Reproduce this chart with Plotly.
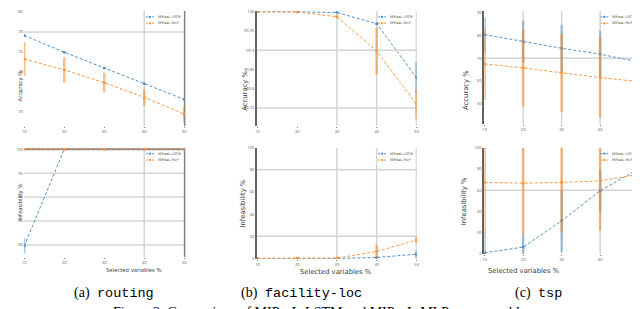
import plotly.graph_objects as go

# ---------------- data ----------------
sel_vars = [10, 20, 30, 40, 50]

# (a) routing
routing_acc_lstm = [77.65, 75.98, 74.41, 72.84, 71.27]
routing_acc_lstm_err = [0.1, 0.1, 0.1, 0.1, 0.1]
routing_acc_mlp = [75.29, 74.22, 72.94, 71.47, 69.8]
routing_acc_mlp_err = [1.72, 1.27, 0.98, 0.83, 0.78]
routing_inf_lstm = [79.8, 100, 100, 100, 100]
routing_inf_lstm_err = [1.6, 0, 0, 0, 0]
routing_inf_mlp = [100, 100, 100, 100, 100]
routing_inf_mlp_err = [0, 0, 0, 0, 0]

# (b) facility-loc
fac_acc_lstm = [100.0, 100.0, 99.998, 99.969, 99.829]
fac_acc_lstm_err = [0, 0, 0.002, 0.004, 0.04]
fac_acc_mlp = [100.0, 99.9997, 99.987, 99.898, 99.76]
fac_acc_mlp_err = [0, 0, 0.004, 0.061, 0.038]
fac_inf_lstm = [0, 0, 0, 0.8, 3.8]
fac_inf_lstm_err = [0, 0, 0, 0.8, 3.5]
fac_inf_mlp = [0, 0, 0.3, 6.2, 16.6]
fac_inf_mlp_err = [0, 0, 0.3, 6.0, 3.0]

# (c) tsp
tsp_acc_lstm = [80.48, 77.45, 74.42, 71.82, 68.36]
tsp_acc_lstm_err = [7.8, 9.1, 10.4, 10.4, 10.4]
tsp_acc_mlp = [67.49, 65.76, 63.59, 61.43, 59.7]
tsp_acc_mlp_err = [15.8, 16.9, 17.3, 17.7, 16.9]
tsp_inf_lstm = [1.2, 6.5, 31.2, 59.6, 80.0]
tsp_inf_lstm_err = [19, 12, 29, 20, 5]
tsp_inf_mlp = [67.3, 66.7, 67.3, 68.8, 75.0]
tsp_inf_mlp_err = [48, 48, 47, 47, 40]

series_names = ["MIPaaL-LSTM", "MIPaaL-MLP"]
caption_labels = ["(a)", "(b)", "(c)"]
captions = ["routing", "facility-loc", "tsp"]
figure_caption = "Figure 2: Comparison of MIPaaL-LSTM and MIPaaL-MLP across problems"

# ---------------- styling ----------------
W, H = 640, 309
BLUE = "rgb(80,145,205)"
ORANGE = "rgb(255,150,65)"
BLUE_ERR = "rgba(31,119,180,0.35)"
ORANGE_ERR = "rgba(255,127,14,0.5)"
GRID = "rgb(212,212,212)"
DARK = "rgb(130,130,130)"
TXT = "rgb(60,60,60)"
SERIF = "Liberation Serif, DejaVu Serif, Times New Roman, serif"
MONO = "Liberation Mono, DejaVu Sans Mono, Courier New, monospace"


def px_x(p):
    return p / W


def px_y(p):
    return 1 - p / H


panels = [
    dict(i=1, xd=(14, 176), yd=(0, 117), d=[(routing_acc_lstm, routing_acc_lstm_err), (routing_acc_mlp, routing_acc_mlp_err)],
         yr=[68.6, 80.1], yt=[70, 72, 74, 76, 78, 80], title="Accuracy %", ts=5.3, tx=5, xl=(95, 263)),
    dict(i=2, xd=(249, 410), yd=(0, 117), d=[(fac_acc_lstm, fac_acc_lstm_err), (fac_acc_mlp, fac_acc_mlp_err)],
         yr=[99.703, 100.002], yt=[99.75, 99.80, 99.85, 99.90, 99.95, 100.0], title="Accuracy %", ts=6.8, tx=236, xl=(329, 265)),
    dict(i=3, xd=(478, 634), yd=(0, 115), d=[(tsp_acc_lstm, tsp_acc_lstm_err), (tsp_acc_mlp, tsp_acc_mlp_err)],
         yr=[40.9, 90.9], yt=[50, 60, 70, 80, 90], title="Accuracy %", ts=6.8, tx=465, xl=(556, 264)),
    dict(i=4, xd=(14, 176), yd=(139, 250), d=[(routing_inf_lstm, routing_inf_lstm_err), (routing_inf_mlp, routing_inf_mlp_err)],
         yr=[77.5, 100.3], yt=[80, 85, 90, 95, 100], title="Infeasibility %", ts=5.3, tx=5, xl=(95, 263)),
    dict(i=5, xd=(249, 410), yd=(139, 252), d=[(fac_inf_lstm, fac_inf_lstm_err), (fac_inf_mlp, fac_inf_mlp_err)],
         yr=[-0.5, 100], yt=[0, 20, 40, 60, 80, 100], title="Infeasibility %", ts=6.8, tx=235, xl=(329, 265)),
    dict(i=6, xd=(478, 634), yd=(139, 247), d=[(tsp_inf_lstm, tsp_inf_lstm_err), (tsp_inf_mlp, tsp_inf_mlp_err)],
         yr=[0, 100], yt=[0, 20, 40, 60, 80, 100], title="Infeasibility %", ts=6.8, tx=464, xl=(556, 264)),
]

# gridlines visible in the reference (x tick indices, y tick values)
grid_sel = {
    1: ([3], [78]),
    2: ([2, 3, 4], [99.90, 99.75]),
    3: ([1, 2, 3, 4], [70]),
    4: ([3], [80, 85, 90, 95]),
    5: ([2, 3, 4], [20, 80]),
    6: ([1, 2, 3, 4], [60]),
}

fig = go.Figure()
shapes = []
annotations = []
layout = {}

for p in panels:
    i = p["i"]
    xa = "x" if i == 1 else f"x{i}"
    ya = "y" if i == 1 else f"y{i}"

    gx, gy = grid_sel[i]
    for gi in gx:
        xv = sel_vars[gi]
        shapes.append(dict(type="line", xref=xa, yref=f"{ya} domain", x0=xv, x1=xv, y0=0, y1=1,
                           line=dict(color=GRID, width=1.5), layer="below"))
    for yv in gy:
        shapes.append(dict(type="line", xref=f"{xa} domain", yref=ya, x0=0, x1=1, y0=yv, y1=yv,
                           line=dict(color=GRID, width=1.5), layer="below"))
    if i in (1, 4):
        shapes.append(dict(type="line", xref=f"{xa} domain", yref=f"{ya} domain", x0=1, x1=1, y0=0, y1=1,
                           line=dict(color=DARK, width=1.5), layer="below"))
    if i == 4:
        shapes.append(dict(type="line", xref=f"{xa} domain", yref=ya, x0=0, x1=1, y0=100, y1=100,
                           line=dict(color=DARK, width=2), layer="below"))

    for k, (vals, errs) in enumerate(p["d"]):
        col = BLUE if k == 0 else ORANGE
        ecol = BLUE_ERR if k == 0 else ORANGE_ERR
        fig.add_trace(go.Scatter(
            x=sel_vars, y=vals, mode="lines+markers", name=series_names[k],
            xaxis=xa, yaxis=ya, showlegend=False, cliponaxis=True,
            line=dict(color=col, width=1, dash="3px,2px"),
            marker=dict(color=col, size=2.5, symbol="square"),
            error_y=dict(type="data", array=errs, visible=True, color=ecol, thickness=2.5, width=0),
        ))
    layout["xaxis" if i == 1 else f"xaxis{i}"] = dict(
        domain=[px_x(p["xd"][0]), px_x(p["xd"][1])], anchor=ya,
        range=[9.9, 50.1], tickvals=sel_vars, showgrid=False, zeroline=False,
        tickfont=dict(size=4, color="rgb(90,90,90)"), ticks="outside", ticklen=1,
        tickcolor=DARK, showline=False,
    )
    layout["yaxis" if i == 1 else f"yaxis{i}"] = dict(
        domain=[px_y(p["yd"][1]), px_y(p["yd"][0])], anchor=xa,
        range=p["yr"], tickvals=p["yt"], showgrid=False, zeroline=False,
        tickfont=dict(size=4, color="rgb(90,90,90)"), ticks="", showline=(i in (2, 3, 5, 6)),
        linecolor="rgb(100,100,100)", linewidth=2,
    )
    # y-axis title
    annotations.append(dict(
        text=p["title"], x=px_x(p["tx"]), y=(px_y(p["yd"][0]) + px_y(p["yd"][1])) / 2,
        xref="paper", yref="paper", textangle=-90, showarrow=False,
        font=dict(size=p["ts"], color=TXT, family="DejaVu Sans"),
    ))
    # x-axis title (bottom row)
    if i > 3:
        annotations.append(dict(
            text="Selected variables %", x=px_x(p["xl"][0]), y=px_y(p["xl"][1]),
            xref="paper", yref="paper", showarrow=False, yanchor="middle",
            font=dict(size=p["ts"], color=TXT, family="DejaVu Sans"),
        ))
    # mini legend
    lx = p["xd"][1] - 39
    ly = p["yd"][0] + 6
    for k in range(2):
        col = BLUE if k == 0 else ORANGE
        yk = ly + k * 6.5
        shapes.append(dict(type="line", xref="paper", yref="paper",
                           x0=px_x(lx), x1=px_x(lx + 8), y0=px_y(yk), y1=px_y(yk),
                           line=dict(color=col, width=1, dash="2px,1px")))
        shapes.append(dict(type="rect", xref="paper", yref="paper",
                           x0=px_x(lx + 3), x1=px_x(lx + 5), y0=px_y(yk - 1), y1=px_y(yk + 1),
                           fillcolor=col, line=dict(width=0)))
        annotations.append(dict(text=series_names[k], x=px_x(lx + 10), y=px_y(yk), xref="paper", yref="paper",
                                xanchor="left", yanchor="middle", showarrow=False,
                                font=dict(size=3.5, color="rgb(80,80,80)", family="DejaVu Sans")))

# sub-figure captions
cap_start = [66, 235, 510]
for lab, name, cx in zip(caption_labels, captions, cap_start):
    annotations.append(dict(
        text=lab, x=px_x(cx + 17), y=px_y(287), xref="paper", yref="paper", showarrow=False,
        xanchor="right", yanchor="middle",
        font=dict(size=14, color="black", family=SERIF),
    ))
    annotations.append(dict(
        text=name, x=px_x(cx + 20), y=px_y(287.5), xref="paper", yref="paper", showarrow=False,
        xanchor="left", yanchor="middle",
        font=dict(size=13.5, color="black", family=MONO),
    ))
annotations.append(dict(
    text=figure_caption, x=0.5, y=px_y(306), xref="paper", yref="paper", showarrow=False,
    xanchor="center", yanchor="middle", font=dict(size=14, color="black", family=SERIF),
))

fig.update_layout(
    width=W, height=H, margin=dict(l=0, r=0, t=0, b=0),
    paper_bgcolor="white", plot_bgcolor="white", showlegend=False,
    shapes=shapes, annotations=annotations, **layout,
)
fig.write_html("out.html")
